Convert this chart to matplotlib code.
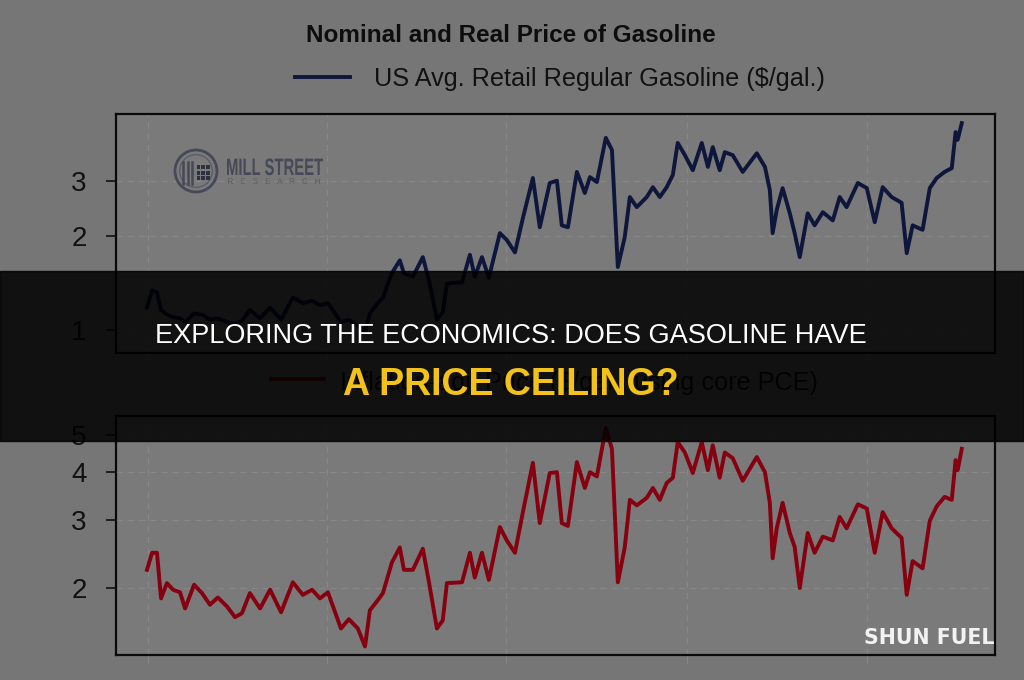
import numpy as np
import matplotlib.pyplot as plt
import matplotlib.patches as patches
from matplotlib.textpath import TextPath
from matplotlib.font_manager import FontProperties
from matplotlib.transforms import Affine2D

# monthly-ish readings, decimal years
years = [1990.56, 1990.76, 1990.95, 1991.11, 1991.34, 1991.58, 1991.85, 1992.05, 1992.40, 1992.71,
         1993.02, 1993.33, 1993.69, 1994.00, 1994.27, 1994.58, 1994.98, 1995.37, 1995.80, 1996.26,
         1996.65, 1997.01, 1997.32, 1997.63, 1998.14, 1998.45, 1998.80, 1999.08, 1999.27, 1999.58,
         1999.78, 2000.13, 2000.44, 2000.60, 2000.95, 2001.34, 2001.58, 2001.89, 2002.12, 2002.28,
         2002.87, 2003.18, 2003.37, 2003.65, 2003.92, 2004.35, 2004.62, 2004.94, 2005.25, 2005.64,
         2005.91, 2006.30, 2006.58, 2006.77, 2007.01, 2007.36, 2007.67, 2007.87, 2008.14, 2008.49,
         2008.73, 2008.96, 2009.23, 2009.43, 2009.70, 2010.09, 2010.33, 2010.60, 2010.87, 2011.11,
         2011.30, 2011.58, 2011.89, 2012.24, 2012.48, 2012.67, 2012.94, 2013.14, 2013.45, 2013.84,
         2014.39, 2014.71, 2014.90, 2015.01, 2015.17, 2015.40, 2015.68, 2015.87, 2016.07, 2016.38,
         2016.65, 2016.97, 2017.36, 2017.63, 2017.90, 2018.34, 2018.69, 2019.00, 2019.31, 2019.66,
         2020.05, 2020.25, 2020.48, 2020.87, 2021.15, 2021.42, 2021.73, 2022.01, 2022.16, 2022.24,
         2022.40]

nominal = [1.18, 1.34, 1.32, 1.16, 1.12, 1.10, 1.09, 1.06, 1.13, 1.12,
           1.08, 1.09, 1.06, 1.05, 1.07, 1.16, 1.09, 1.18, 1.08, 1.27,
           1.22, 1.24, 1.20, 1.22, 1.06, 1.08, 1.03, 0.99, 1.13, 1.22,
           1.27, 1.52, 1.67, 1.52, 1.48, 1.71, 1.44, 1.08, 1.14, 1.41,
           1.42, 1.74, 1.48, 1.71, 1.47, 2.04, 1.94, 1.77, 2.28, 3.06,
           2.13, 2.95, 3.00, 2.16, 2.13, 3.20, 2.74, 3.08, 2.97, 4.11,
           3.76, 1.59, 1.98, 2.66, 2.47, 2.66, 2.86, 2.66, 2.86, 3.13,
           3.96, 3.62, 3.24, 3.96, 3.32, 3.84, 3.24, 3.70, 3.62, 3.20,
           3.67, 3.32, 2.80, 2.04, 2.42, 2.84, 2.36, 2.04, 1.71, 2.36,
           2.16, 2.38, 2.24, 2.66, 2.47, 2.95, 2.84, 2.21, 2.86, 2.66,
           2.55, 1.76, 2.16, 2.09, 2.84, 3.06, 3.20, 3.29, 4.29, 4.05,
           4.58]

real = [2.23, 2.47, 2.47, 1.88, 2.06, 1.98, 1.95, 1.77, 2.04, 1.94,
        1.81, 1.89, 1.79, 1.68, 1.72, 1.94, 1.77, 1.98, 1.73, 2.07,
        1.92, 1.98, 1.88, 1.95, 1.57, 1.66, 1.57, 1.41, 1.75, 1.86,
        1.94, 2.33, 2.55, 2.23, 2.23, 2.53, 2.07, 1.57, 1.65, 2.06,
        2.07, 2.47, 2.13, 2.47, 2.10, 2.88, 2.66, 2.47, 3.15, 4.23,
        2.95, 3.98, 4.00, 2.95, 2.90, 4.25, 3.64, 4.00, 3.90, 5.21,
        4.60, 2.07, 2.55, 3.39, 3.28, 3.43, 3.64, 3.39, 3.75, 3.87,
        4.79, 4.50, 3.98, 4.79, 4.05, 4.70, 3.87, 4.50, 4.35, 3.80,
        4.38, 4.00, 3.33, 2.39, 2.86, 3.33, 2.78, 2.56, 2.00, 2.78,
        2.47, 2.72, 2.66, 3.06, 2.86, 3.30, 3.22, 2.47, 3.15, 2.86,
        2.70, 1.92, 2.35, 2.25, 2.99, 3.26, 3.45, 3.39, 4.30, 4.05,
        4.60]

grid_years = [1990.6, 1997.6, 2004.6, 2011.65, 2018.7]
top_ticks = [1, 2, 3]
bot_ticks = [2, 3, 4, 5]

title = 'Nominal and Real Price of Gasoline'
label_nom = 'US Avg. Retail Regular Gasoline ($/gal.)'
label_real = 'Inflation-adj. Price ($/gal., using core PCE)'
banner1 = 'EXPLORING THE ECONOMICS: DOES GASOLINE HAVE'
banner2 = 'A PRICE CEILING?'

sans = ['Liberation Sans', 'DejaVu Sans']
navy = '#0f163c'
red = '#86000f'

fig = plt.figure(figsize=(10.24, 6.8), dpi=100)
fig.patch.set_facecolor('#767676')

ax1 = fig.add_axes([0.1133, 0.4809, 0.8584, 0.3515])
ax2 = fig.add_axes([0.1133, 0.0368, 0.8584, 0.3515])


def style(ax, lo, hi, ticks):
    ax.set_facecolor('#7a7a7a')
    ax.set_yscale('log')
    ax.set_ylim(lo, hi)
    ax.set_xlim(1989.35, 2023.7)
    ax.set_yticks(ticks, labels=[str(t) for t in ticks])
    ax.minorticks_off()
    ax.set_xticks(grid_years)
    ax.set_xticklabels([])
    ax.grid(True, ls=(0, (5, 4)), color='#878787', lw=0.9)
    for s in ax.spines.values():
        s.set_linewidth(1.6)
        s.set_color('#0a0a0a')
    ax.tick_params(axis='y', length=7, width=1.2, pad=14, labelsize=20,
                   color='#111111', labelcolor='#111111')
    ax.tick_params(axis='x', length=6, color='#878787')
    for lab in ax.get_yticklabels():
        lab.set_family(sans)


style(ax1, 0.845, 4.9, top_ticks)
style(ax2, 1.34, 5.6, bot_ticks)

ax1.plot(years, nominal, color=navy, lw=2.8, solid_joinstyle='round')
ax2.plot(years, real, color=red, lw=2.8, solid_joinstyle='round')

# title and legend entries
fig.text(511 / 1024, 1 - 42 / 680, title, ha='center', va='baseline',
         fontsize=17.5, fontweight='bold', family=sans, color='#0d0d0d')
fig.add_artist(plt.Line2D([295 / 1024, 350 / 1024], [1 - 77 / 680] * 2, color=navy, lw=2.8))
fig.text(374 / 1024, 1 - 86 / 680, label_nom, ha='left', va='baseline',
         fontsize=18.2, family=sans, color='#111111')
fig.add_artist(plt.Line2D([271 / 1024, 324 / 1024], [1 - 379 / 680] * 2, color=red, lw=2.8))
fig.text(340 / 1024, 1 - 390 / 680, label_real, ha='left', va='baseline',
         fontsize=18.2, family=sans, color='#111111')


def squeezed(text, x0, base, width, cap, color, weight='bold'):
    # text drawn as a path, squeezed to a box given in output pixels
    tp = TextPath((0, 0), text, size=1, prop=FontProperties(family=sans, weight=weight))
    ext = tp.get_extents()
    tr = Affine2D().translate(-ext.x0, 0).scale(width / ext.width, cap / 0.716).translate(x0, 680 - base)
    fig.add_artist(patches.PathPatch(tp, transform=tr, fc=color, ec='none'))


# Mill Street logo
lc = '#464957'
cx, cy = 196 / 1024, 1 - 171 / 680
rw, rh = 42 / 1024, 42 / 680
fig.add_artist(patches.Ellipse((cx, cy), rw, rh, fill=False, ec=lc, lw=2))
fig.add_artist(patches.Ellipse((cx, cy), rw * 0.78, rh * 0.78, fill=False, ec='#5a5d68', lw=1))
for dx in (-0.3, -0.2, -0.1):
    fig.add_artist(plt.Line2D([cx + dx * rw] * 2, [cy - 0.3 * rh, cy + 0.22 * rh], color=lc, lw=1.8))
for i in range(3):
    for j in range(3):
        fig.add_artist(patches.Rectangle((cx + (0.02 + 0.11 * i) * rw, cy + (-0.22 + 0.13 * j) * rh),
                                         0.085 * rw, 0.1 * rh, color='#2e3140', lw=0))
squeezed('MILL STREET', 227, 175, 96, 17, lc)
squeezed('R   E   S   E   A   R   C   H', 228, 184, 92, 6, '#5c5e69', weight='normal')

# banner overlay
fig.add_artist(patches.Rectangle((0, 1 - 441 / 680), 1, 170 / 680, transform=fig.transFigure,
                                 color='black', alpha=0.85, zorder=10))
fig.text(511 / 1024, 1 - 343 / 680, banner1, ha='center', va='baseline', fontsize=19.5,
         family=sans, color='white', zorder=11)
fig.text(511 / 1024, 1 - 395 / 680, banner2, ha='center', va='baseline', fontsize=27,
         fontweight='bold', family=sans, color='#f2c21b', zorder=11)
fig.text(994 / 1024, 1 - 644 / 680, 'SHUN FUEL', ha='right', va='baseline', fontsize=14.8,
         fontweight='bold', family='DejaVu Sans', color='#f2f2f2', zorder=11)

fig.savefig('out.png', dpi=100, facecolor=fig.get_facecolor())
